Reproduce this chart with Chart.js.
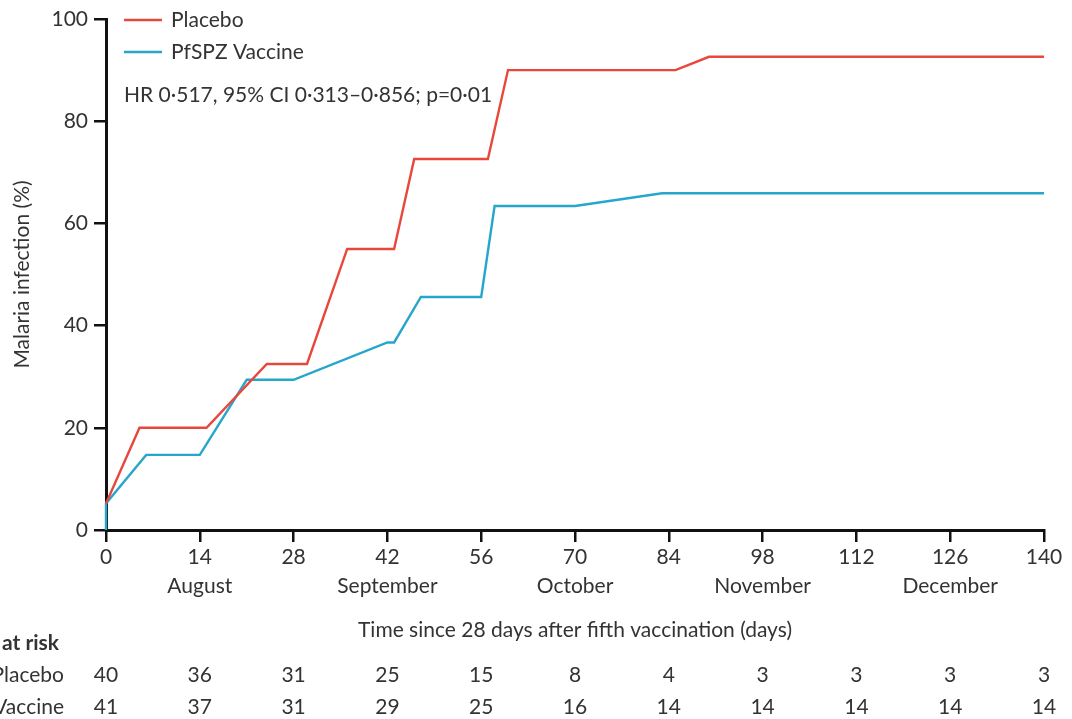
<!DOCTYPE html>
<html>
<head>
<meta charset="utf-8">
<script src="https://cdn.jsdelivr.net/npm/chart.js@4/dist/chart.umd.min.js"></script>
<style>
  html, body { margin: 0; padding: 0; background: #fff; }
  #wrap { width: 1072px; height: 719px; }
</style>
</head>
<body>
<div id="wrap"><canvas id="kmChart"></canvas></div>
<script>
// x axis ticks (days) and month names under some of them
var dayTicks = [0, 14, 28, 42, 56, 70, 84, 98, 112, 126, 140];
var monthLabels = { 14: 'August', 42: 'September', 70: 'October', 98: 'November', 126: 'December' };

// cumulative malaria infection (%)
var placeboDays = [0, 5, 15, 24, 30, 36, 43, 46, 57, 60, 85, 90, 140];
var placeboPct = [5.2, 20, 20, 32.5, 32.5, 55, 55, 72.6, 72.6, 90, 90, 92.6, 92.6];
var vaccineDays = [0, 0, 6, 14, 21, 28, 42, 43, 47, 56, 58, 70, 83, 140];
var vaccinePct = [0, 5.2, 14.7, 14.7, 29.4, 29.4, 36.7, 36.7, 45.6, 45.6, 63.4, 63.4, 65.9, 65.9];

// number at risk at each tick
var riskPlacebo = [40, 36, 31, 25, 15, 8, 4, 3, 3, 3, 3];
var riskVaccine = [41, 37, 31, 29, 25, 16, 14, 14, 14, 14, 14];

var hrText = 'HR 0\u00b7517, 95% CI 0\u00b7313\u20130\u00b7856; p=0\u00b701';

var fontFamily = 'Lato, "Open Sans", sans-serif';
var fontSize = 21;
var textColor = '#333';
var red = '#e8483c';
var blue = '#27a6cc';

function toPoints(xs, ys) {
    return xs.map(function (x, i) { return { x: x, y: ys[i] }; });
}

// legend, HR note and at-risk table
var extras = {
    id: 'extras',
    afterDraw: function (chart) {
        var c = chart.ctx;
        var xs = chart.scales.x;
        c.save();
        c.font = fontSize + 'px ' + fontFamily;
        c.textBaseline = 'middle';
        chart.data.datasets.forEach(function (ds, i) {
            var y = 20 + i * 32;
            c.strokeStyle = ds.borderColor;
            c.lineWidth = 2.5;
            c.beginPath();
            c.moveTo(124, y);
            c.lineTo(162, y);
            c.stroke();
            c.fillStyle = textColor;
            c.textAlign = 'left';
            c.fillText(ds.label, 171, y);
        });
        c.fillText(hrText, 124, 95);

        c.font = 'bold ' + fontSize + 'px ' + fontFamily;
        c.fillText('at risk', 2, 643);
        c.font = fontSize + 'px ' + fontFamily;
        c.textAlign = 'right';
        c.fillText('Placebo', 64, 675);
        c.fillText('Vaccine', 64, 707);
        c.textAlign = 'center';
        dayTicks.forEach(function (d, i) {
            var px = xs.getPixelForValue(d);
            c.fillText(String(riskPlacebo[i]), px, 675);
            c.fillText(String(riskVaccine[i]), px, 707);
        });
        c.restore();
    }
};

var ctx = document.getElementById('kmChart').getContext('2d');
var kmChart = new Chart(ctx, {
    type: 'line',
    data: {
        datasets: [{
            label: 'Placebo',
            data: toPoints(placeboDays, placeboPct),
            borderColor: red,
            borderWidth: 2.4,
            pointRadius: 0,
            tension: 0,
            clip: false
        }, {
            label: 'PfSPZ Vaccine',
            data: toPoints(vaccineDays, vaccinePct),
            borderColor: blue,
            borderWidth: 2.4,
            pointRadius: 0,
            tension: 0,
            clip: false
        }]
    },
    options: {
        responsive: true,
        maintainAspectRatio: false,
        animation: false,
        layout: { padding: { top: 19, right: 28, left: 0, bottom: 0 } },
        plugins: {
            legend: { display: false },
            tooltip: { enabled: false }
        },
        scales: {
            x: {
                type: 'linear',
                min: 0,
                max: 140,
                afterFit: function (s) { s.height = 189; },
                afterBuildTicks: function (s) {
                    s.ticks = dayTicks.map(function (d) { return { value: d }; });
                },
                ticks: {
                    color: textColor,
                    font: { family: fontFamily, size: fontSize, lineHeight: 1.42 },
                    padding: 0,
                    maxRotation: 0,
                    autoSkip: false,
                    callback: function (v) {
                        return monthLabels[v] ? [String(v), monthLabels[v]] : String(v);
                    }
                },
                grid: {
                    drawOnChartArea: false,
                    color: '#111',
                    lineWidth: 2.5,
                    tickLength: 12
                },
                border: { color: '#111', width: 3 },
                title: {
                    display: true,
                    text: 'Time since 28 days after fifth vaccination (days)',
                    color: textColor,
                    font: { family: fontFamily, size: fontSize },
                    padding: { top: 0, bottom: 76 }
                }
            },
            y: {
                min: 0,
                max: 100,
                afterFit: function (s) { s.width = 106; },
                ticks: {
                    stepSize: 20,
                    color: textColor,
                    font: { family: fontFamily, size: fontSize },
                    padding: 6
                },
                grid: {
                    drawOnChartArea: false,
                    color: '#111',
                    lineWidth: 2.5,
                    tickLength: 12
                },
                border: { color: '#111', width: 3 },
                title: {
                    display: true,
                    text: 'Malaria infection (%)',
                    color: textColor,
                    font: { family: fontFamily, size: fontSize },
                    padding: { top: 10, bottom: 0 }
                }
            }
        }
    },
    plugins: [extras]
});
</script>
</body>
</html>
